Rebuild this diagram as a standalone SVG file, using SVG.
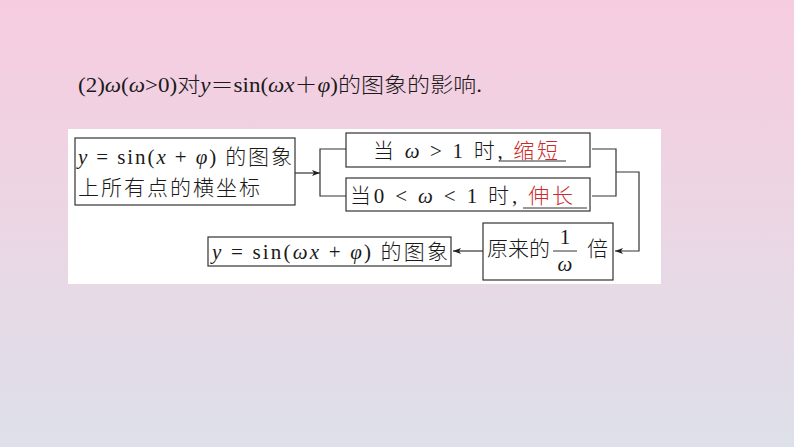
<svg xmlns="http://www.w3.org/2000/svg" width="794" height="447" viewBox="0 0 794 447">
<defs>
<linearGradient id="bg" x1="0" y1="0" x2="0" y2="1">
<stop offset="0" stop-color="#f6cce0"/>
<stop offset="0.35" stop-color="#efd3e2"/>
<stop offset="1" stop-color="#dde0ea"/>
</linearGradient>
<marker id="ah" viewBox="0 0 8 6" refX="8" refY="3" markerWidth="8" markerHeight="6" markerUnits="userSpaceOnUse" orient="auto">
<path d="M0,0 L8,3 L0,6 L2,3 Z" fill="#222"/>
</marker>
<style>
.box{fill:#fff;stroke:#333;stroke-width:1.2}
.cn{font-family:"Liberation Serif","Noto Sans CJK SC",serif;font-size:21px;font-weight:300;fill:#1a1a1a}
.m{font-family:"Liberation Serif",serif;font-style:italic}
.red{fill:#cc2a2a}
.ul{stroke:#333;stroke-width:1}
.conn{fill:none;stroke:#333;stroke-width:1.2}
</style>
</defs>
<rect x="0" y="0" width="794" height="447" fill="url(#bg)"/>
<text class="cn" x="78" y="92" textLength="404" lengthAdjust="spacingAndGlyphs">(2)<tspan class="m">ω</tspan>(<tspan class="m">ω</tspan>&gt;0)对<tspan class="m">y</tspan>＝sin(<tspan class="m">ωx</tspan>＋<tspan class="m">φ</tspan>)的图象的影响.</text>
<rect x="68" y="129" width="593" height="155" fill="#fff"/>
<g id="n1">
<rect class="box" x="75" y="138" width="220" height="67"/>
<text class="cn" x="78" y="164" textLength="214" lengthAdjust="spacing"><tspan class="m">y</tspan> = sin(<tspan class="m">x</tspan> + <tspan class="m">φ</tspan>) 的图象</text>
<text class="cn" x="78" y="195" textLength="182" lengthAdjust="spacing">上所有点的横坐标</text>
</g>
<g id="n2">
<rect class="box" x="346" y="133" width="244" height="34"/>
<text class="cn" x="373" y="158" textLength="185" lengthAdjust="spacing">当 <tspan class="m">ω</tspan> &gt; 1 时, <tspan class="red">缩短</tspan></text>
<line class="ul" x1="499" y1="161" x2="566" y2="161"/>
</g>
<g id="n3">
<rect class="box" x="346" y="178" width="244" height="33"/>
<text class="cn" x="350" y="203" textLength="223" lengthAdjust="spacing">当0 &lt; <tspan class="m">ω</tspan> &lt; 1 时, <tspan class="red">伸长</tspan></text>
<line class="ul" x1="523" y1="208" x2="587" y2="208"/>
</g>
<g id="n4">
<rect class="box" x="483" y="223" width="130" height="57"/>
<text class="cn" x="487" y="256" textLength="63" lengthAdjust="spacing">原来的</text>
<text class="cn" x="565" y="244" text-anchor="middle">1</text>
<line class="ul" x1="553" y1="251" x2="577" y2="251"/>
<text class="cn m" x="565" y="271" text-anchor="middle">ω</text>
<text class="cn" x="587" y="256">倍</text>
</g>
<g id="n5">
<rect class="box" x="208" y="237" width="243" height="29"/>
<text class="cn" x="212" y="259" textLength="236" lengthAdjust="spacing"><tspan class="m">y</tspan> = sin(<tspan class="m">ωx</tspan> + <tspan class="m">φ</tspan>) 的图象</text>
</g>
<g id="connectors">
<path class="conn" d="M295,173 H320" marker-end="url(#ah)"/>
<path class="conn" d="M346,149 H320 V196 H346"/>
<path class="conn" d="M592,149 H616 V196 H592"/>
<path class="conn" d="M616,172 H639 V251 H615" marker-end="url(#ah)"/>
<path class="conn" d="M483,251 H453" marker-end="url(#ah)"/>
</g>
</svg>
